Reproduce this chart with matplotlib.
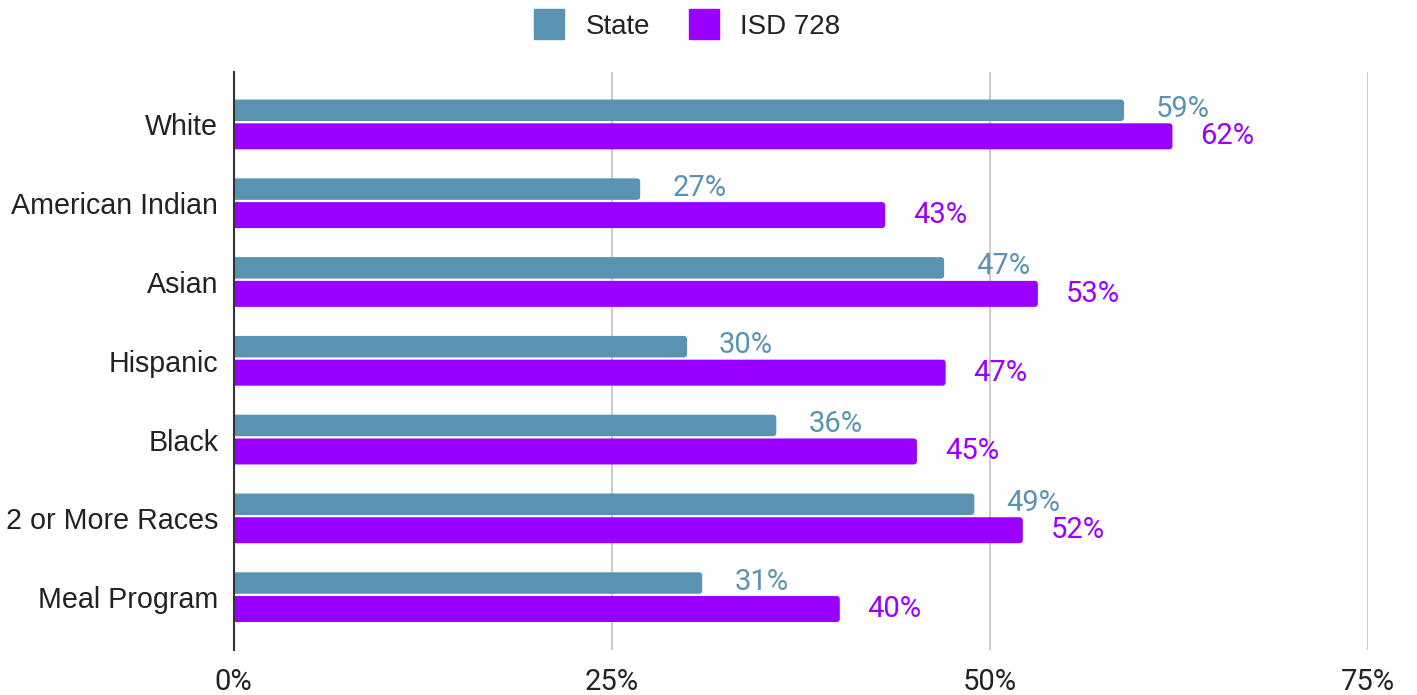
import matplotlib
matplotlib.use("Agg")
import matplotlib.pyplot as plt
from matplotlib.patches import FancyBboxPatch
from matplotlib.lines import Line2D

categories = ["White", "American Indian", "Asian", "Hispanic", "Black",
              "2 or More Races", "Meal Program"]
state = [58.9, 26.9, 47.0, 30.0, 35.9, 49.0, 31.0]
isd = [62.1, 43.1, 53.2, 47.1, 45.2, 52.2, 40.1]
series_names = ["State", "ISD 728"]
xticks = [0, 25, 50, 75]
xticklabels = ["0%", "25%", "50%", "75%"]

C_STATE = "#5a93b1"
C_ISD = "#9900ff"

W, H = 1417, 695
fig = plt.figure(figsize=(W / 100, H / 100), dpi=100)
ax = fig.add_axes([233.5 / W, 1 - 650 / H, (1367.5 - 233.5) / W, (650 - 71.7) / H])

ypos = list(range(len(categories)))
s_off, s_h = -0.180, 0.273
i_off, i_h = 0.150, 0.330

bars_s = ax.barh([y + s_off for y in ypos], state, height=s_h, color=C_STATE, zorder=3)
bars_i = ax.barh([y + i_off for y in ypos], isd, height=i_h, color=C_ISD, zorder=3)

ax.set_xlim(0, 75)
ax.set_ylim(len(categories) - 0.33, -0.67)

# rounded bar ends
px_x = 75 / (1367.5 - 233.5)   # data units per pixel (x)
px_y = (len(categories) + 0.34) / (650 - 71.7)
r = 3.5 * px_x
for bars in (bars_s, bars_i):
    for b in bars:
        x, y, w, h = b.get_x(), b.get_y(), b.get_width(), b.get_height()
        fb = FancyBboxPatch((x - 2 * r, y), w + 2 * r, h,
                            boxstyle=f"round,pad=0,rounding_size={r}",
                            mutation_aspect=px_y / px_x,
                            facecolor=b.get_facecolor(), edgecolor="none",
                            zorder=3)
        ax.add_patch(fb)
        b.remove()

# data labels
for y, v in zip(ypos, state):
    ax.annotate(f"{v:.0f}%", (v, y + s_off), xytext=(23, 1), textcoords="offset points",
                ha="left", va="center", fontsize=21, family="Roboto",
                color=C_STATE, zorder=4)
for y, v in zip(ypos, isd):
    ax.annotate(f"{v:.0f}%", (v, y + i_off), xytext=(20, 0), textcoords="offset points",
                ha="left", va="center", fontsize=21, family="Roboto",
                color=C_ISD, zorder=4)

ax.set_yticks(ypos)
ax.set_yticklabels(categories, fontsize=20.6, family="Liberation Sans", color="#222222")
ax.set_xticks(xticks)
ax.set_xticklabels(xticklabels, fontsize=21, family="Roboto", color="#222222")
ax.tick_params(axis="y", length=0, pad=11)
ax.tick_params(axis="x", length=0, pad=13)

ax.grid(axis="x", color="#cccccc", linewidth=1.5, zorder=0)
ax.set_axisbelow(True)
for s in ["top", "right", "bottom"]:
    ax.spines[s].set_visible(False)
ax.spines["left"].set_color("#333333")
ax.spines["left"].set_linewidth(1.5)
ax.spines["left"].set_zorder(5)

handles = [Line2D([], [], marker="s", ls="", ms=21, color=C_STATE),
           Line2D([], [], marker="s", ls="", ms=21, color=C_ISD)]
leg = fig.legend(handles, series_names, loc="center", bbox_to_anchor=(688 / W, 1 - 27 / H),
                 ncol=2, frameon=False, handlelength=1.0, handletextpad=0.8,
                 columnspacing=1.45, prop={"family": "Liberation Sans", "size": 20})
for t in leg.get_texts():
    t.set_color("#222222")

fig.savefig("out.png", dpi=100)
